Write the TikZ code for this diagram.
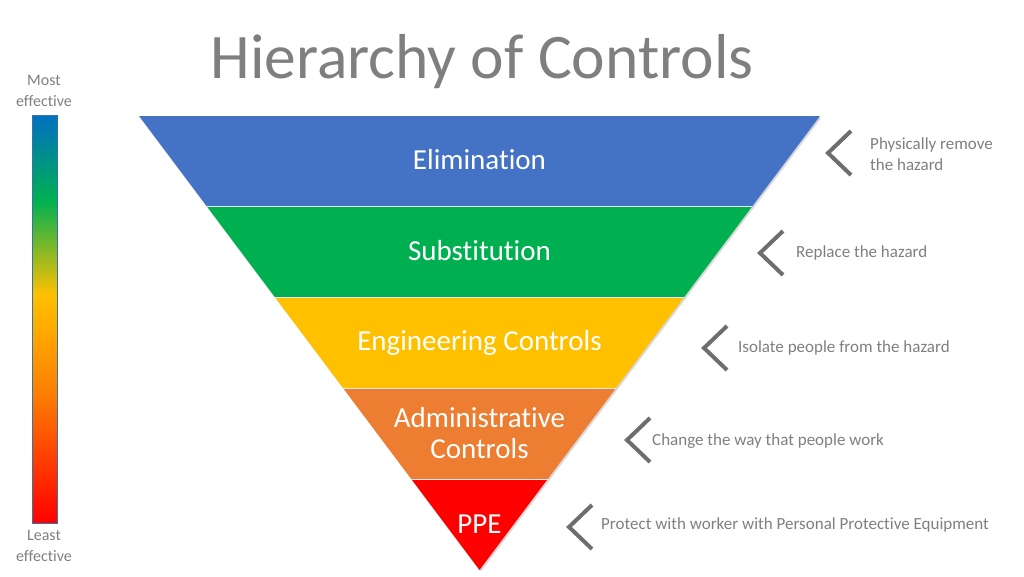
\documentclass[tikz,border=0pt]{standalone}
\usepackage{fontspec}
\setmainfont{Carlito}[Ligatures={NoCommon}]
\definecolor{elim}{HTML}{4472C4}
\definecolor{subst}{HTML}{00B050}
\definecolor{engin}{HTML}{FFC000}
\definecolor{admin}{HTML}{ED7D31}
\definecolor{ppe}{HTML}{FF0000}
\definecolor{txtgray}{HTML}{7F7F7F}
\definecolor{chevgray}{HTML}{6E6E6E}
\definecolor{gblue}{HTML}{0070C0}
\definecolor{ggreen}{HTML}{00B050}
\definecolor{gyellow}{HTML}{FFC000}
\definecolor{gorange}{HTML}{FF7F00}
\definecolor{gred}{HTML}{FF0000}
\pgfdeclareverticalshading{effbar}{100bp}{color(0bp)=(gred); color(25bp)=(gred); color(41bp)=(gorange); color(53bp)=(gyellow); color(64.5bp)=(ggreen); color(75bp)=(gblue); color(100bp)=(gblue)}
\begin{document}
\begin{tikzpicture}[x=1pt,y=-1pt,
  bandlabel/.style={text=white,font=\fontsize{29}{31}\selectfont,align=center,inner sep=0pt},
  sidelabel/.style={text=txtgray,font=\fontsize{17}{21}\selectfont,align=left,anchor=west,inner sep=0pt},
  chevron/.style={draw=chevgray,line width=4pt,miter limit=10},
  sep/.style={draw=white!85!gray,line width=1pt}]
\useasboundingbox (0,0) rectangle (1024,576);
% title
\node[text=txtgray,font=\fontsize{63.5}{64}\selectfont,inner sep=0pt] (title) at (482,62) {Hierarchy of Controls};
% triangle coordinates
\coordinate (TL) at (139,116);
\coordinate (TR) at (820,116);
\coordinate (L1) at (207.1,206.8);
\coordinate (R1) at (751.9,206.8);
\coordinate (L2) at (275.2,297.6);
\coordinate (R2) at (683.8,297.6);
\coordinate (L3) at (343.3,388.4);
\coordinate (R3) at (615.7,388.4);
\coordinate (L4) at (411.4,479.2);
\coordinate (R4) at (547.6,479.2);
\coordinate (AP) at (479.5,570);
% shadow
\fill[black,opacity=0.15] ([shift={(1.5,1.5)}]TL) -- ([shift={(1.5,1.5)}]TR) -- ([shift={(1.5,1.5)}]AP) -- cycle;
% bands
\fill[elim] (TL) -- (TR) -- (R1) -- (L1) -- cycle;
\fill[subst] (L1) -- (R1) -- (R2) -- (L2) -- cycle;
\fill[engin] (L2) -- (R2) -- (R3) -- (L3) -- cycle;
\fill[admin] (L3) -- (R3) -- (R4) -- (L4) -- cycle;
\fill[ppe] (L4) -- (R4) -- (AP) -- cycle;
\draw[sep] (L1) -- (R1);
\draw[sep] (L2) -- (R2);
\draw[sep] (L3) -- (R3);
\draw[sep] (L4) -- (R4);
% band labels
\node[bandlabel] (elimT) at (479.5,160) {Elimination};
\node[bandlabel] (substT) at (479.5,251) {Substitution};
\node[bandlabel] (enginT) at (479.5,343) {Engineering Controls};
\node[bandlabel] (adminT) at (479.5,433) {Administrative\\Controls};
\node[bandlabel] (ppeT) at (479.5,524) {PPE};
% chevrons
\draw[chevron] (851,131) -- (828,153) -- (851,175);
\draw[chevron] (783,231) -- (760,253) -- (783,275);
\draw[chevron] (727,326) -- (704,348) -- (727,370);
\draw[chevron] (650,418) -- (627,440) -- (650,462);
\draw[chevron] (592,505) -- (569,527) -- (592,549);
% side labels
\node[sidelabel] (s1) at (870,154) {Physically remove\\the hazard};
\node[sidelabel] (s2) at (796,253) {Replace the hazard};
\node[sidelabel] (s3) at (738,348) {Isolate people from the hazard};
\node[sidelabel] (s4) at (652,441) {Change the way that people work};
\node[sidelabel] (s5) at (601,525) {Protect with worker with Personal Protective Equipment};
% effectiveness bar
\shade[shading=effbar,draw=gblue!60!gray,line width=0.6pt] (32,115.5) rectangle (57,523);
\node[text=txtgray,font=\fontsize{16}{21}\selectfont,align=center,inner sep=0pt] (most) at (44,91) {Most\\effective};
\node[text=txtgray,font=\fontsize{16}{21}\selectfont,align=center,inner sep=0pt] (least) at (44,546) {Least\\effective};
\end{tikzpicture}
\end{document}
